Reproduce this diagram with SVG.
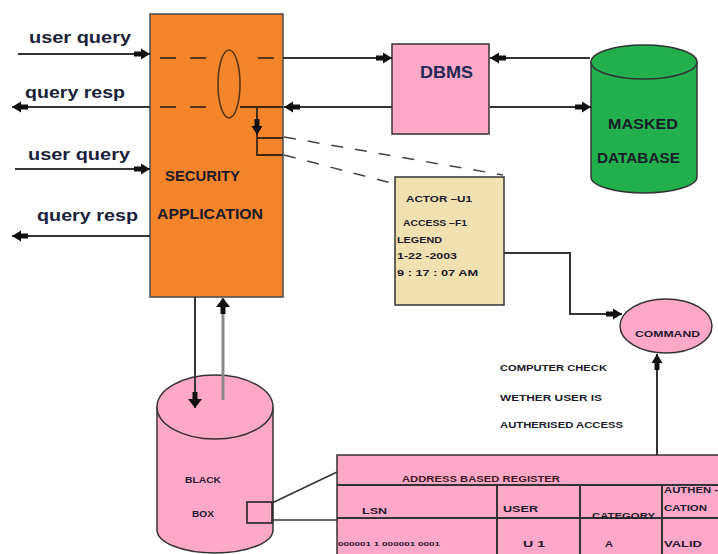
<svg xmlns="http://www.w3.org/2000/svg" width="718" height="554" viewBox="0 0 718 554">
<defs>
<marker id="ah" markerUnits="userSpaceOnUse" markerWidth="18" markerHeight="12" refX="16" refY="6" orient="auto">
<path d="M0,3.5 L7,3.5 L7,0.5 L16,6 L7,11.5 L7,8.5 L0,8.5 z" fill="#111"/>
</marker>
<marker id="ahb" markerUnits="userSpaceOnUse" markerWidth="20" markerHeight="16" refX="16" refY="8" orient="auto">
<path d="M0,5.5 L7,5.5 L7,1 L16,8 L7,15 L7,10.5 L0,10.5 z" fill="#111"/>
</marker>
</defs>
<style>
.lbl{font-family:"Liberation Sans",Arial,sans-serif;font-size:16px;font-weight:bold;fill:#1a1f3a}
.t{font-family:"Liberation Sans",Arial,sans-serif;font-weight:bold;fill:#1a1a2a}
.s9{font-size:9px}
.ln{stroke:#333;stroke-width:2;fill:none}
.dash{stroke:#5a3414;stroke-width:2;stroke-dasharray:16 14;fill:none}
.br{stroke:#3a2a10;stroke-width:1.8;fill:none}
</style>
<rect width="718" height="554" fill="#fff"/>

<g id="security-app">
<rect x="150" y="14" width="133" height="283" fill="#f5852a" stroke="#4a4a55" stroke-width="1.5"/>
<line class="dash" x1="160" y1="58" x2="218" y2="58"/>
<line class="dash" x1="258" y1="58" x2="283" y2="58" stroke-dasharray="18 8"/>
<line class="dash" x1="160" y1="107" x2="218" y2="107"/>
<ellipse cx="229" cy="84" rx="11" ry="34" fill="none" stroke="#5a3414" stroke-width="1.6"/>
<text class="t" x="165" y="181" font-size="15" textLength="75" lengthAdjust="spacingAndGlyphs">SECURITY</text>
<text class="t" x="157" y="219" font-size="15" textLength="106" lengthAdjust="spacingAndGlyphs">APPLICATION</text>
</g>

<g id="dbms">
<rect x="392" y="44" width="97" height="90" fill="#ffa8c8" stroke="#333" stroke-width="1.5"/>
<text class="t" x="420" y="78" font-size="17" textLength="53" lengthAdjust="spacingAndGlyphs" style="fill:#1e2a55">DBMS</text>
</g>

<g id="masked-database">
<path d="M591,62 L591,177 A53,16 0 0 0 697,177 L697,62" fill="#21b04b" stroke="#333" stroke-width="1.5"/>
<ellipse cx="644" cy="62" rx="53" ry="17" fill="#21b04b" stroke="#333" stroke-width="1.5"/>
<text class="t" x="608" y="129" font-size="14" textLength="70" lengthAdjust="spacingAndGlyphs">MASKED</text>
<text class="t" x="597" y="163" font-size="14" textLength="83" lengthAdjust="spacingAndGlyphs">DATABASE</text>
</g>

<g id="legend">
<rect x="395" y="177" width="109" height="128" fill="#efe2b0" stroke="#333" stroke-width="1.5"/>
<text class="t s9" x="406" y="202" textLength="66" lengthAdjust="spacingAndGlyphs">ACTOR –U1</text>
<text class="t s9" x="403" y="226" textLength="64" lengthAdjust="spacingAndGlyphs">ACCESS –F1</text>
<text class="t s9" x="397" y="243" textLength="45" lengthAdjust="spacingAndGlyphs">LEGEND</text>
<text class="t s9" x="397" y="259" textLength="60" lengthAdjust="spacingAndGlyphs">1-22 -2003</text>
<text class="t s9" x="397" y="276" textLength="81" lengthAdjust="spacingAndGlyphs">9 : 17 : 07 AM</text>
</g>

<g id="command">
<ellipse cx="666" cy="326" rx="46" ry="27" fill="#ffa8c8" stroke="#333" stroke-width="1.5"/>
<text class="t s9" x="635" y="337" textLength="65" lengthAdjust="spacingAndGlyphs">COMMAND</text>
</g>

<g id="check-note">
<text class="t s9" x="500" y="371" textLength="107" lengthAdjust="spacingAndGlyphs">COMPUTER CHECK</text>
<text class="t s9" x="500" y="401" textLength="102" lengthAdjust="spacingAndGlyphs">WETHER USER IS</text>
<text class="t s9" x="500" y="428" textLength="123" lengthAdjust="spacingAndGlyphs">AUTHERISED ACCESS</text>
</g>

<g id="black-box">
<path d="M157,407 L157,530 A58,23 0 0 0 273,530 L273,407" fill="#ffa8c8" stroke="#333" stroke-width="1.5"/>
<ellipse cx="215" cy="407" rx="58" ry="32" fill="#ffa8c8" stroke="#333" stroke-width="1.5"/>
<text class="t s9" x="185" y="483" textLength="36" lengthAdjust="spacingAndGlyphs">BLACK</text>
<text class="t s9" x="192" y="517" textLength="22" lengthAdjust="spacingAndGlyphs">BOX</text>
<rect x="247" y="502" width="25" height="21" fill="none" stroke="#222" stroke-width="1.6"/>
</g>

<g id="register">
<rect x="337" y="455" width="390" height="110" fill="#ffa8c8" stroke="#333" stroke-width="1.5"/>
<line class="ln" x1="337" y1="485" x2="718" y2="485" stroke-width="1.5"/>
<line class="ln" x1="337" y1="518" x2="718" y2="518" stroke-width="1.5"/>
<line class="ln" x1="497" y1="485" x2="497" y2="554"/>
<line class="ln" x1="580" y1="485" x2="580" y2="554"/>
<line class="ln" x1="662" y1="485" x2="662" y2="554"/>
<text class="t s9" x="402" y="482" textLength="158" lengthAdjust="spacingAndGlyphs" style="fill:#3a1a20">ADDRESS BASED REGISTER</text>
<text class="t s9" x="362" y="514" textLength="25" lengthAdjust="spacingAndGlyphs">LSN</text>
<text class="t s9" x="503" y="512" textLength="35" lengthAdjust="spacingAndGlyphs">USER</text>
<text class="t s9" x="592" y="519" textLength="63" lengthAdjust="spacingAndGlyphs">CATEGORY</text>
<text class="t s9" x="664" y="493" textLength="54" lengthAdjust="spacingAndGlyphs">AUTHEN -</text>
<text class="t s9" x="664" y="511" textLength="43" lengthAdjust="spacingAndGlyphs">CATION</text>
<text class="t" x="338" y="546" font-size="6" textLength="102" lengthAdjust="spacingAndGlyphs">000001 1 000001 0001</text>
<text class="t s9" x="523" y="547" textLength="22" lengthAdjust="spacingAndGlyphs">U 1</text>
<text class="t s9" x="605" y="547" textLength="8" lengthAdjust="spacingAndGlyphs">A</text>
<text class="t s9" x="664" y="547" textLength="38" lengthAdjust="spacingAndGlyphs">VALID</text>
</g>

<g id="io-labels">
<text class="lbl" x="29" y="43" textLength="102" lengthAdjust="spacingAndGlyphs">user query</text>
<text class="lbl" x="25" y="98" textLength="100" lengthAdjust="spacingAndGlyphs">query resp</text>
<text class="lbl" x="28" y="160" textLength="102" lengthAdjust="spacingAndGlyphs">user query</text>
<text class="lbl" x="37" y="221" textLength="101" lengthAdjust="spacingAndGlyphs">query resp</text>
</g>

<g id="connectors">
<line class="ln" x1="18" y1="54" x2="150" y2="54" marker-end="url(#ah)"/>
<line class="ln" x1="150" y1="107" x2="12" y2="107" marker-end="url(#ah)"/>
<line class="ln" x1="15" y1="169" x2="150" y2="169" marker-end="url(#ah)"/>
<line class="ln" x1="150" y1="236" x2="12" y2="236" marker-end="url(#ah)"/>
<line class="ln" x1="283" y1="58" x2="392" y2="58" marker-end="url(#ah)"/>
<line class="ln" x1="590" y1="58" x2="490" y2="58" marker-end="url(#ah)"/>
<line class="ln" x1="392" y1="107" x2="284" y2="107" marker-end="url(#ah)"/>
<line class="ln" x1="490" y1="107" x2="591" y2="107" marker-end="url(#ah)"/>
<path class="br" d="M240,107 L283,107"/>
<path class="br" d="M257,107 L257,155 L283,155 M257,138 L283,138"/>
<line class="br" x1="257" y1="116" x2="257" y2="135" marker-end="url(#ah)"/>
<line x1="284" y1="137" x2="503" y2="175" stroke="#444" stroke-width="1.5" stroke-dasharray="12 12"/>
<line x1="284" y1="155" x2="395" y2="184" stroke="#444" stroke-width="1.5" stroke-dasharray="12 12"/>
<path class="ln" d="M504,253 L570,253 L570,314 L622,314" marker-end="url(#ah)"/>
<line class="ln" x1="657" y1="455" x2="657" y2="354" marker-end="url(#ah)"/>
<line class="ln" x1="195" y1="297" x2="195" y2="408" marker-end="url(#ahb)"/>
<line x1="223" y1="400" x2="223" y2="298" stroke="#8a8a8a" stroke-width="3" marker-end="url(#ahb)"/>
<path d="M272,503 L337,472 M272,520 L337,520" stroke="#333" stroke-width="1.5" fill="none"/>
</g>
</svg>
